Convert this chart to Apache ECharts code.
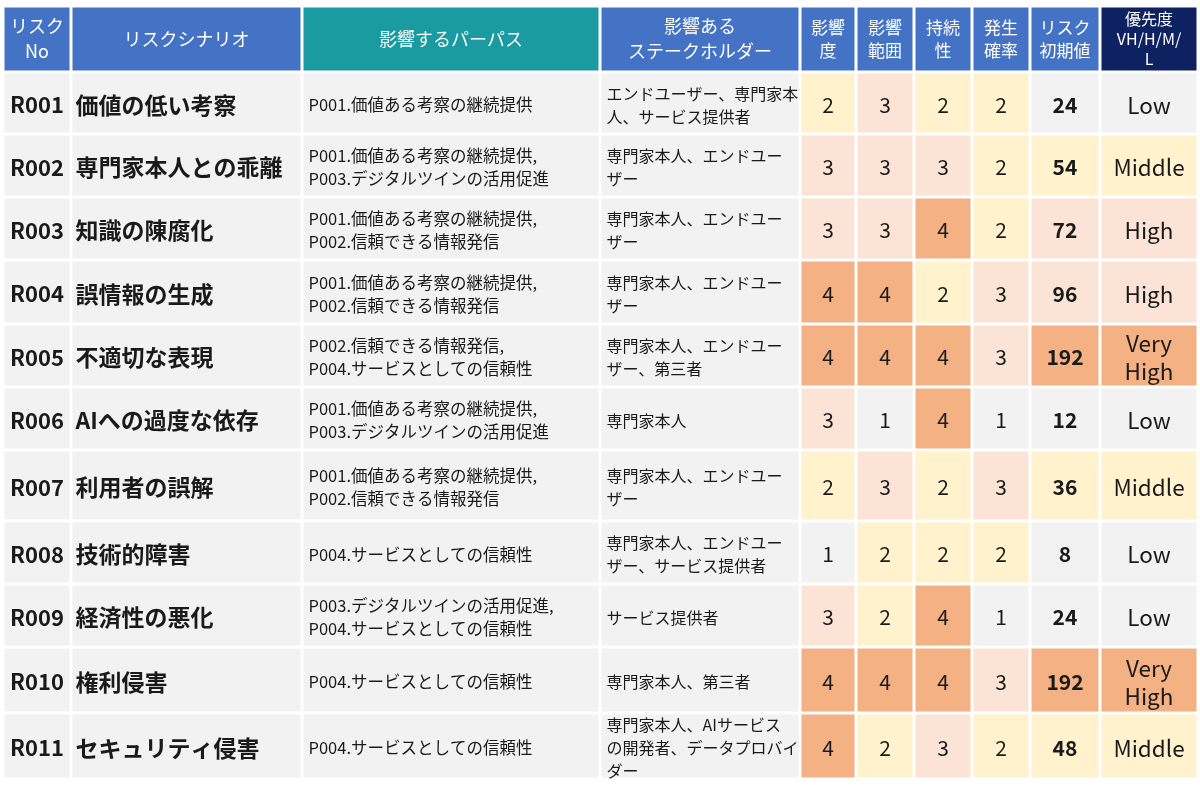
<!DOCTYPE html>
<html>
<head>
<meta charset="utf-8" />
<title>リスク評価表</title>
<script src="https://cdn.jsdelivr.net/npm/echarts@6/dist/echarts.min.js"></script>
<style>
  body { margin: 0; padding: 0; background: #ffffff; }
  #main { width: 1200px; height: 792px; }
</style>
</head>
<body>
<div id="main"></div>
<script type="text/javascript">
// ---- data ----
var headers = [
  "リスク\nNo", "リスクシナリオ", "影響するパーパス", "影響ある\nステークホルダー",
  "影響\n度", "影響\n範囲", "持続\n性", "発生\n確率", "リスク\n初期値", "優先度\nVH/H/M/\nL"
];
var riskIds = ["R001", "R002", "R003", "R004", "R005", "R006", "R007", "R008", "R009", "R010", "R011"];
var scenarios = [
  "価値の低い考察", "専門家本人との乖離", "知識の陳腐化", "誤情報の生成", "不適切な表現",
  "AIへの過度な依存", "利用者の誤解", "技術的障害", "経済性の悪化", "権利侵害", "セキュリティ侵害"
];
var purposes = [
  "P001.価値ある考察の継続提供",
  "P001.価値ある考察の継続提供,\nP003.デジタルツインの活用促進",
  "P001.価値ある考察の継続提供,\nP002.信頼できる情報発信",
  "P001.価値ある考察の継続提供,\nP002.信頼できる情報発信",
  "P002.信頼できる情報発信,\nP004.サービスとしての信頼性",
  "P001.価値ある考察の継続提供,\nP003.デジタルツインの活用促進",
  "P001.価値ある考察の継続提供,\nP002.信頼できる情報発信",
  "P004.サービスとしての信頼性",
  "P003.デジタルツインの活用促進,\nP004.サービスとしての信頼性",
  "P004.サービスとしての信頼性",
  "P004.サービスとしての信頼性"
];
var stakeholders = [
  "エンドユーザー、専門家本\n人、サービス提供者",
  "専門家本人、エンドユー\nザー",
  "専門家本人、エンドユー\nザー",
  "専門家本人、エンドユー\nザー",
  "専門家本人、エンドユー\nザー、第三者",
  "専門家本人",
  "専門家本人、エンドユー\nザー",
  "専門家本人、エンドユー\nザー、サービス提供者",
  "サービス提供者",
  "専門家本人、第三者",
  "専門家本人、AIサービス\nの開発者、データプロバイ\nダー"
];
var impact      = [2, 3, 3, 4, 4, 3, 2, 1, 3, 4, 4];
var scope       = [3, 3, 3, 4, 4, 1, 3, 2, 2, 4, 2];
var duration    = [2, 3, 4, 2, 4, 4, 2, 2, 4, 4, 3];
var probability = [2, 2, 2, 3, 3, 1, 3, 2, 1, 3, 2];
var riskValues  = [24, 54, 72, 96, 192, 12, 36, 8, 24, 192, 48];
var priorities  = ["Low", "Middle", "High", "High", "Very High", "Low", "Middle", "Low", "Low", "Very High", "Middle"];

// ---- layout / style ----
var colWidths = [68, 231, 298, 200, 56, 58, 58, 58, 70, 98];
var rowHeights = [66, 62, 63, 63, 64, 63, 63, 71, 63, 63, 66, 66];
var headerFills = ["#4472C4", "#4472C4", "#1A9BA2", "#4472C4", "#4472C4", "#4472C4", "#4472C4", "#4472C4", "#4472C4", "#0E2160"];
var levelFills = { 1: "#F2F2F2", 2: "#FFF2CC", 3: "#FBE4D6", 4: "#F4B183" };
var priorityLevel = { "Low": 1, "Middle": 2, "High": 3, "Very High": 4 };
var FONT = "'Noto Sans CJK JP', 'Noto Sans', sans-serif";
var GAP = 1.5;

var colEdges = [0];
colWidths.forEach(function (w) { colEdges.push(colEdges[colEdges.length - 1] + w); });
var rowEdges = [0];
rowHeights.forEach(function (h) { rowEdges.push(rowEdges[rowEdges.length - 1] + h); });

// body text style per column: [align, size, weight, lineHeight, padLeft]
var bodyStyles = [
  ["center", 22, "bold", 26, 0],
  ["left", 23, "bold", 28, 3],
  ["left", 16.5, "normal", 23, 5],
  ["left", 16, "normal", 23, 5],
  ["center", 21, "normal", 26, 0],
  ["center", 21, "normal", 26, 0],
  ["center", 21, "normal", 26, 0],
  ["center", 21, "normal", 26, 0],
  ["center", 21, "bold", 26, 0],
  ["center", 22.5, "normal", 28, 0]
];

var cells = [];
var cellInfo = [];
headers.forEach(function (h, c) {
  cells.push([c, 0]);
  var size = c <= 3 ? 18 : (c === 9 ? 16 : 17);
  var lh = c === 9 ? 20 : (c <= 3 ? 25 : 23);
  cellInfo.push({ text: h, fill: headerFills[c], color: "#ffffff", align: "center", size: size, weight: "normal", lh: lh, pad: 0, dy: 0 });
});
riskIds.forEach(function (id, i) {
  var lvl = priorityLevel[priorities[i]];
  var row = [
    [id, levelFills[1]],
    [scenarios[i], levelFills[1]],
    [purposes[i], levelFills[1]],
    [stakeholders[i], levelFills[1]],
    [String(impact[i]), levelFills[impact[i]]],
    [String(scope[i]), levelFills[scope[i]]],
    [String(duration[i]), levelFills[duration[i]]],
    [String(probability[i]), levelFills[probability[i]]],
    [String(riskValues[i]), levelFills[lvl]],
    [priorities[i].replace(" ", "\n"), levelFills[lvl]]
  ];
  row.forEach(function (v, c) {
    var s = bodyStyles[c];
    cells.push([c, i + 1]);
    cellInfo.push({ text: v[0], fill: v[1], color: "#1A1A1A", align: s[0], size: s[1], weight: s[2], lh: s[3], pad: s[4], dy: 2 });
  });
});

var myChart = echarts.init(document.getElementById("main"));

function renderCell(params, api) {
  var c = api.value(0);
  var r = api.value(1);
  var info = cellInfo[params.dataIndex];
  var p0 = api.coord([colEdges[c], rowEdges[r]]);
  var p1 = api.coord([colEdges[c + 1], rowEdges[r + 1]]);
  var x = p0[0] + GAP, y = p0[1] + GAP;
  var w = p1[0] - p0[0] - GAP * 2, h = p1[1] - p0[1] - GAP * 2;
  var tx = info.align === "center" ? x + w / 2 : x + info.pad;
  return {
    type: "group",
    children: [
      { type: "rect", shape: { x: x, y: y, width: w, height: h }, style: { fill: info.fill } },
      {
        type: "text",
        style: {
          text: info.text,
          x: tx,
          y: y + h / 2 + info.dy,
          align: info.align,
          verticalAlign: "middle",
          fill: info.color,
          fontFamily: FONT,
          fontSize: info.size,
          fontWeight: info.weight,
          lineHeight: info.lh
        }
      }
    ]
  };
}

var option = {
  animation: false,
  grid: { left: 3, right: 2, top: 6, bottom: 13 },
  xAxis: { type: "value", min: 0, max: colEdges[colEdges.length - 1], show: false },
  yAxis: { type: "value", min: 0, max: rowEdges[rowEdges.length - 1], inverse: true, show: false },
  series: [
    {
      type: "custom",
      renderItem: renderCell,
      data: cells,
      clip: false
    }
  ]
};
myChart.setOption(option);
</script>
</body>
</html>
